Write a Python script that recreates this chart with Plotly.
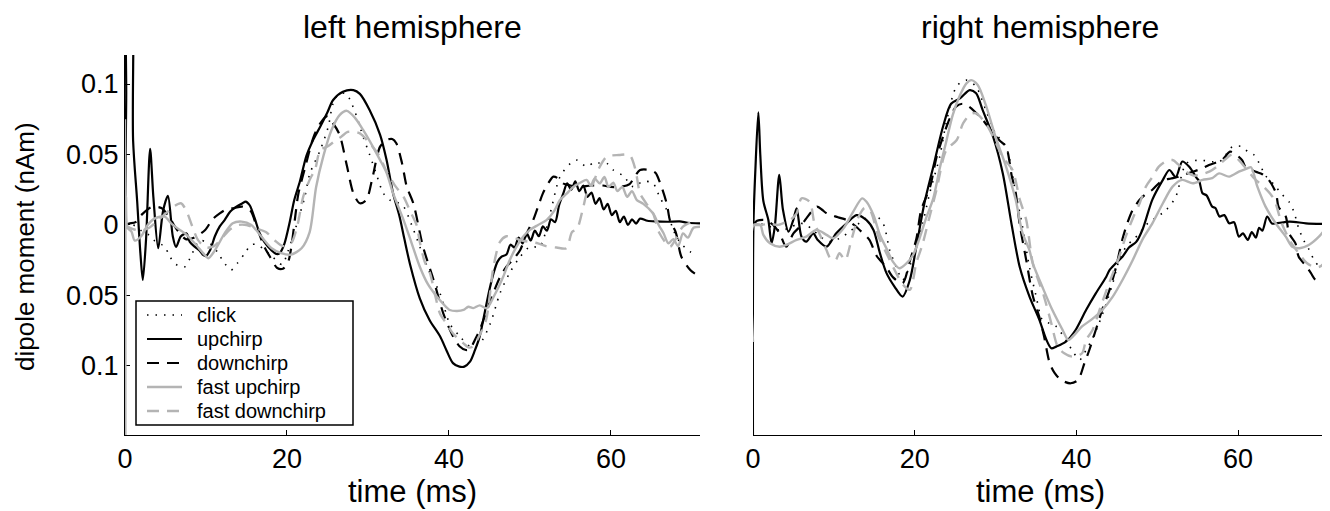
import plotly.graph_objects as go

# ---------------- data (time in ms, dipole moment in nAm) ----------------
# LEFT hemisphere
L_CLICK_T = [0.0, 1.0, 2.0, 2.9, 3.6, 4.9, 5.5, 6.3, 7.4, 8.0, 9.2, 10.0, 10.7, 11.5, 12.3, 13.1, 13.9, 14.8, 15.6, 16.4, 17.2, 18.1, 19.4, 20.1, 21.0, 21.6, 22.2, 22.8, 24.1, 25.1, 25.7, 26.5, 27.3, 27.8, 28.6, 29.4, 30.2, 31.1, 31.9, 32.7, 33.6, 34.4, 35.4, 36.4, 37.65, 38.9, 40.1, 41.35, 42.6, 43.8, 45.1, 46.3, 47.5, 48.8, 50.0, 51.2, 52.5, 53.7, 55.0, 55.8, 57.0, 57.8, 58.4, 59.5, 60.3, 61.5, 62.75, 64.0, 65.2, 66.0, 66.9, 67.7, 68.5, 69.8, 70.6]
L_CLICK_V = [0.0, 0.0, -0.004, -0.0069, -0.011, -0.0154, -0.022, -0.028, -0.0296, -0.024, -0.011, -0.012, -0.014, -0.02, -0.0272, -0.0319, -0.027, -0.02, -0.014, -0.014, -0.0177, -0.022, -0.028, -0.019, -0.0035, 0.008, 0.0198, 0.036, 0.053, 0.0697, 0.0863, 0.0934, 0.093, 0.0887, 0.077, 0.0627, 0.05, 0.035, 0.0225, 0.0177, 0.016, 0.013, 0.0, -0.0154, -0.034, -0.0485, -0.07, -0.079, -0.086, -0.084, -0.07, -0.0485, -0.034, -0.0225, -0.0154, -0.0154, 0.0083, 0.034, 0.0437, 0.046, 0.0413, 0.044, 0.044, 0.0437, 0.039, 0.035, 0.0272, 0.031, 0.0296, 0.02, 0.0106, -0.0035, -0.012, -0.019, -0.02]

L_UP_T = [0.0, 0.15, 0.35, 0.7, 1.0, 1.5, 1.9, 2.2, 2.6, 3.1, 3.5, 4.1, 4.7, 5.3, 5.9, 6.3, 6.9, 7.6, 8.0, 8.6, 9.2, 9.6, 10.0, 10.5, 11.1, 11.7, 12.3, 13.0, 13.5, 13.9, 14.5, 14.9, 15.4, 16.0, 16.6, 17.2, 18.1, 18.7, 19.1, 19.7, 20.3, 20.9, 21.6, 22.4, 23.2, 24.1, 25.0, 25.7, 26.9, 28.2, 29.0, 30.2, 31.5, 32.3, 33.1, 33.9, 34.5, 35.2, 36.4, 37.6, 38.9, 39.7, 40.5, 41.3, 41.9, 42.6, 43.2, 43.8, 44.4, 45.0, 45.5, 46.0, 46.5, 47.1, 47.6, 48.1, 48.6, 49.1, 49.6, 50.1, 50.6, 51.1, 51.6, 52.1, 52.6, 53.1, 53.6, 54.1, 54.6, 55.1, 55.6, 56.1, 56.6, 57.1, 57.6, 58.1, 58.6, 59.1, 59.6, 60.1, 60.6, 61.1, 61.6, 62.1, 62.6, 63.1, 63.6, 64.5, 65.5, 67.0, 68.5, 69.5, 71.0]
L_UP_V = [0.0, 0.09, 0.2, 0.2, 0.06, 0.017, -0.02, -0.039, -0.01, 0.054, 0.02, -0.0165, 0.01, 0.0206, -0.008, -0.0156, -0.008, -0.006, -0.012, -0.0154, -0.018, -0.021, -0.022, -0.018, -0.008, -0.001, 0.0035, 0.0095, 0.012, 0.0135, 0.0154, 0.0166, 0.014, 0.005, -0.0055, -0.012, -0.018, -0.0206, -0.02, -0.013, 0.001, 0.0177, 0.031, 0.049, 0.06, 0.0697, 0.08, 0.0887, 0.0945, 0.0957, 0.093, 0.0816, 0.064, 0.0461, 0.0225, 0.006, -0.01, -0.028, -0.052, -0.0674, -0.079, -0.089, -0.098, -0.1005, -0.1005, -0.097, -0.089, -0.079, -0.0626, -0.046, -0.0343, -0.026, -0.0225, -0.021, -0.014, -0.016, -0.009, -0.013, -0.006, -0.011, -0.004, -0.008, -0.001, -0.004, 0.004, 0.002, 0.014, 0.022, 0.0295, 0.025, 0.031, 0.024, 0.028, 0.02, 0.023, 0.015, 0.019, 0.011, 0.015, 0.007, 0.01, 0.002, 0.006, 0.0, 0.004, 0.001, 0.0045, 0.003, 0.0025, 0.0023, 0.0025, 0.0016, 0.0012]

L_DOWN_T = [0.0, 0.5, 1.3, 2.0, 3.25, 4.5, 5.5, 6.5, 7.5, 8.5, 9.9, 10.8, 11.7, 12.5, 13.5, 14.5, 15.5, 16.3, 17.2, 17.9, 18.8, 19.5, 20.1, 20.5, 21.0, 21.4, 22.2, 23.3, 24.1, 24.9, 25.7, 26.5, 27.4, 28.2, 29.0, 29.8, 30.5, 31.5, 32.3, 33.0, 33.5, 34.2, 34.8, 35.6, 36.8, 38.1, 39.3, 40.5, 41.3, 42.1, 42.6, 43.2, 43.8, 44.6, 45.5, 46.3, 47.1, 48.0, 48.8, 49.6, 50.4, 51.0, 51.6, 52.3, 52.9, 53.5, 54.1, 55.0, 56.2, 57.5, 59.0, 60.0, 61.1, 62.3, 63.0, 63.6, 64.8, 65.5, 66.0, 66.9, 67.3, 68.0, 68.7, 69.8, 70.5]
L_DOWN_V = [0.0, 0.001, 0.002, 0.007, 0.0127, 0.012, 0.005, -0.004, -0.01, -0.009, -0.0035, 0.004, 0.0083, 0.011, 0.012, 0.013, 0.01, -0.002, -0.0154, -0.0225, -0.0305, -0.031, -0.027, -0.017, 0.005, 0.022, 0.04, 0.0627, 0.072, 0.077, 0.072, 0.064, 0.042, 0.0225, 0.0154, 0.0177, 0.032, 0.0556, 0.0603, 0.061, 0.058, 0.044, 0.027, 0.0154, -0.0154, -0.039, -0.0627, -0.079, -0.086, -0.0887, -0.088, -0.0816, -0.0745, -0.062, -0.048, -0.037, -0.0296, -0.024, -0.0177, -0.006, 0.0035, 0.013, 0.0224, 0.03, 0.0343, 0.033, 0.0295, 0.028, 0.027, 0.028, 0.028, 0.027, 0.027, 0.029, 0.035, 0.039, 0.039, 0.037, 0.031, 0.015, 0.003, -0.005, -0.0225, -0.032, -0.035]

L_FUP_T = [0.0, 0.05, 0.12, 0.3, 0.8, 1.2, 2.0, 2.8, 3.7, 4.9, 5.7, 6.5, 7.4, 8.6, 9.8, 10.3, 11.1, 12.3, 13.3, 14.4, 15.6, 16.8, 18.1, 19.3, 20.5, 21.8, 22.8, 23.6, 24.5, 25.5, 26.5, 27.4, 28.4, 29.4, 30.6, 31.5, 32.3, 33.1, 34.4, 35.4, 36.4, 37.4, 38.5, 39.3, 40.1, 41.0, 41.8, 42.4, 43.0, 43.8, 44.65, 45.6, 46.7, 47.5, 48.35, 49.2, 50.0, 51.0, 52.05, 53.0, 53.7, 54.5, 55.35, 56.2, 57.0, 57.5, 58.0, 58.6, 59.2, 59.7, 60.3, 60.8, 61.4, 62.0, 62.6, 63.2, 64.0, 65.2, 65.9, 66.5, 67.1, 67.7, 68.3, 68.9, 69.5, 70.2, 71.0]
L_FUP_V = [0.075, -0.17, 0.02, -0.002, -0.0047, -0.011, -0.008, 0.0, 0.0047, 0.006, 0.0012, -0.0024, -0.006, -0.013, -0.021, -0.0236, -0.018, -0.006, 0.0012, 0.0024, 0.0, -0.008, -0.0165, -0.02, -0.021, -0.0165, -0.005, 0.027, 0.049, 0.0674, 0.078, 0.081, 0.076, 0.0674, 0.0556, 0.046, 0.037, 0.0225, 0.0035, -0.013, -0.0296, -0.042, -0.0508, -0.056, -0.0603, -0.061, -0.0603, -0.058, -0.059, -0.057, -0.0591, -0.05, -0.0367, -0.025, -0.0154, -0.008, -0.0035, 0.0, 0.0035, 0.01, 0.0177, 0.022, 0.027, 0.03, 0.032, 0.028, 0.033, 0.0295, 0.034, 0.027, 0.03, 0.024, 0.027, 0.02, 0.024, 0.0177, 0.015, 0.0083, 0.0, -0.0059, -0.013, -0.01, -0.015, -0.006, -0.009, -0.002, -0.0012]

L_FDOWN_T = [0.0, 1.0, 2.0, 3.0, 4.0, 5.0, 6.0, 6.9, 7.4, 7.8, 8.4, 9.0, 10.0, 11.0, 12.0, 13.0, 14.0, 15.0, 16.0, 17.4, 18.5, 19.5, 20.5, 21.3, 22.0, 22.8, 23.5, 24.1, 25.1, 26.0, 26.7, 27.5, 28.2, 29.0, 30.2, 31.3, 32.3, 33.3, 34.4, 35.2, 36.0, 36.4, 37.0, 37.65, 38.3, 38.9, 39.7, 40.5, 41.2, 41.8, 42.5, 43.0, 43.8, 44.6, 45.5, 46.3, 47.1, 48.0, 49.0, 50.0, 51.0, 52.0, 53.3, 54.5, 55.2, 55.8, 56.6, 57.0, 57.8, 58.5, 59.5, 61.0, 62.3, 63.0, 63.6, 64.4, 65.2, 66.0, 67.3, 68.0, 68.9, 70.6]
L_FDOWN_V = [0.0, -0.003, -0.004, -0.002, 0.003, 0.008, 0.013, 0.0154, 0.012, 0.007, -0.0024, -0.0106, -0.016, -0.015, -0.009, -0.003, 0.0, 0.0, -0.002, -0.005, -0.011, -0.015, -0.013, 0.0, 0.02, 0.032, 0.04, 0.053, 0.056, 0.06, 0.0626, 0.066, 0.066, 0.065, 0.058, 0.05, 0.038, 0.0283, 0.02, 0.01, 0.0, -0.012, -0.026, -0.034, -0.05, -0.063, -0.07, -0.077, -0.081, -0.084, -0.087, -0.086, -0.078, -0.067, -0.0296, -0.012, -0.008, -0.009, -0.011, -0.012, -0.013, -0.015, -0.016, -0.0165, -0.005, -0.003, 0.013, 0.022, 0.0295, 0.04, 0.0485, 0.0496, 0.0496, 0.04, 0.0224, 0.015, 0.0083, -0.0059, -0.0154, -0.01, -0.0012, 0.0035]

# RIGHT hemisphere
R_CLICK_T = [0.0, 0.5, 1.5, 2.5, 3.5, 4.5, 5.8, 6.6, 7.5, 8.5, 9.5, 10.7, 11.97, 13.6, 14.4, 14.9, 16.1, 16.9, 17.7, 18.5, 19.2, 20.2, 21.0, 21.85, 23.1, 23.9, 25.2, 26.4, 27.6, 28.8, 30.0, 31.3, 32.5, 33.3, 34.2, 35.0, 35.8, 36.7, 37.5, 38.7, 39.6, 40.4, 41.2, 41.9, 42.8, 43.7, 44.5, 45.3, 46.2, 47.0, 47.8, 48.6, 49.4, 51.1, 52.3, 53.6, 55.2, 56.8, 57.7, 58.5, 59.3, 60.5, 61.2, 62.0, 62.6, 63.4, 64.5, 65.3, 66.3, 66.9, 67.5, 68.1, 68.8, 69.4, 70.0, 70.8]
R_CLICK_V = [0.0, 0.001, 0.0, -0.002, -0.004, -0.002, 0.0012, 0.0, -0.004, -0.009, -0.0118, -0.0095, -0.0047, 0.0035, 0.006, 0.008, 0.001, -0.0177, -0.0295, -0.039, -0.032, -0.0154, 0.0012, 0.0225, 0.0485, 0.0725, 0.0985, 0.1028, 0.0981, 0.0816, 0.065, 0.0555, 0.0225, 0.0, -0.03, -0.05, -0.0674, -0.0698, -0.072, -0.0816, -0.09, -0.0957, -0.0887, -0.0816, -0.0698, -0.0556, -0.0414, -0.0248, -0.015, -0.0106, -0.006, 0.0, 0.0035, 0.0106, 0.0201, 0.0437, 0.046, 0.0449, 0.0449, 0.05, 0.0556, 0.0556, 0.052, 0.0496, 0.044, 0.035, 0.0284, 0.0225, 0.0165, 0.0095, -0.0024, -0.0106, -0.0177, -0.0248, -0.029, -0.031]

R_UP_T = [0.0, 0.05, 0.3, 0.66, 0.9, 1.28, 1.9, 2.3, 2.7, 3.25, 3.7, 4.4, 4.98, 5.4, 6.0, 6.6, 7.45, 8.0, 9.1, 10.3, 11.6, 12.8, 14.04, 14.9, 15.7, 16.5, 17.5, 18.5, 19.4, 20.2, 21.2, 22.3, 23.5, 24.5, 25.6, 26.8, 27.6, 28.4, 29.7, 30.9, 32.0, 33.0, 34.2, 35.4, 36.3, 36.9, 37.5, 38.7, 39.9, 41.2, 42.4, 43.7, 44.1, 44.9, 45.7, 46.5, 47.4, 48.2, 49.4, 50.7, 51.5, 52.3, 53.1, 53.96, 54.8, 55.2, 55.6, 56.1, 56.8, 57.2, 57.7, 58.3, 58.9, 59.5, 60.1, 60.6, 61.2, 61.7, 62.2, 62.6, 63.0, 63.6, 64.2, 64.7, 66.4, 68.4, 70.9]
R_UP_V = [-0.17, -0.0012, 0.04, 0.08, 0.05, 0.017, 0.0035, -0.013, -0.001, 0.0355, 0.011, -0.0047, 0.0035, 0.0118, -0.0083, -0.0118, -0.0059, -0.0106, -0.0154, -0.0059, 0.0012, 0.007, 0.0035, -0.0035, -0.02, -0.034, -0.0437, -0.0508, -0.039, -0.0154, 0.0154, 0.0413, 0.0697, 0.086, 0.0898, 0.0957, 0.0934, 0.0816, 0.0626, 0.0366, 0.0, -0.03, -0.0508, -0.067, -0.0816, -0.0875, -0.0863, -0.0828, -0.0745, -0.0603, -0.0485, -0.0367, -0.032, -0.027, -0.0225, -0.016, -0.012, -0.003, 0.018, 0.032, 0.039, 0.034, 0.045, 0.0413, 0.034, 0.031, 0.0225, 0.021, 0.013, 0.012, 0.006, 0.007, 0.0012, 0.002, -0.0083, -0.006, -0.0106, -0.005, -0.009, -0.002, -0.004, 0.006, 0.001, 0.0012, 0.0024, 0.0012, 0.0007]

R_DOWN_T = [0.0, 0.5, 1.5, 2.5, 3.3, 4.1, 5.0, 6.0, 6.6, 7.9, 8.5, 9.1, 10.5, 11.6, 12.5, 13.4, 14.4, 15.3, 16.5, 17.3, 18.5, 19.4, 20.2, 20.8, 21.9, 22.7, 23.5, 24.3, 25.1, 25.9, 26.7, 27.5, 28.5, 29.7, 30.5, 31.3, 32.0, 32.5, 33.0, 33.8, 34.6, 35.4, 36.0, 36.7, 37.3, 38.1, 39.3, 40.2, 41.0, 41.6, 42.4, 43.2, 44.1, 44.9, 45.7, 46.3, 46.96, 47.8, 48.6, 49.4, 50.2, 50.9, 51.7, 52.5, 53.5, 54.5, 55.5, 56.4, 58.0, 59.0, 59.5, 60.5, 60.9, 62.2, 63.0, 63.8, 64.7, 65.0, 65.9, 66.3, 67.1, 67.5, 68.4, 69.0, 69.6, 70.3, 70.9]
R_DOWN_V = [0.0, 0.003, 0.0035, 0.0, -0.006, -0.0154, -0.006, 0.0, 0.0047, 0.013, 0.011, 0.0083, 0.0055, 0.0035, 0.0, -0.0047, -0.0106, -0.022, -0.03, -0.037, -0.0413, -0.0255, -0.01, 0.0106, 0.027, 0.048, 0.0626, 0.075, 0.0839, 0.086, 0.084, 0.08, 0.074, 0.065, 0.06, 0.0555, 0.035, 0.0225, 0.0, -0.025, -0.05, -0.065, -0.079, -0.098, -0.105, -0.11, -0.1123, -0.11, -0.098, -0.0887, -0.0745, -0.06, -0.046, -0.03, -0.01, 0.0012, 0.0106, 0.0177, 0.022, 0.025, 0.0296, 0.032, 0.033, 0.034, 0.036, 0.038, 0.04, 0.0425, 0.0461, 0.052, 0.051, 0.046, 0.0413, 0.0377, 0.036, 0.032, 0.0225, 0.013, 0.006, -0.0059, -0.013, -0.0225, -0.029, -0.034, -0.039, -0.039, -0.0366]

R_FUP_T = [0.0, 0.1, 0.9, 1.28, 2.1, 3.3, 4.1, 5.4, 6.6, 7.86, 9.1, 9.9, 11.2, 12.4, 13.5, 14.04, 14.9, 15.7, 16.5, 17.3, 18.1, 18.98, 19.8, 20.6, 21.4, 22.3, 23.1, 23.9, 24.7, 25.6, 26.4, 27.0, 27.8, 28.8, 30.0, 31.3, 32.5, 33.3, 34.2, 34.6, 35.8, 37.0, 38.3, 39.0, 39.9, 40.7, 41.9, 43.2, 44.5, 45.7, 46.96, 48.2, 49.4, 50.7, 51.9, 53.1, 54.4, 55.6, 56.8, 57.65, 58.9, 60.1, 61.15, 61.6, 62.4, 63.4, 64.65, 65.9, 66.7, 67.6, 68.8, 70.0, 71.0]
R_FUP_V = [-0.083, 0.0, 0.0, -0.007, -0.013, -0.0154, -0.0142, -0.0106, -0.0083, -0.0035, -0.007, -0.0095, -0.0024, 0.0095, 0.0189, 0.0165, 0.0071, -0.0071, -0.0165, -0.026, -0.0307, -0.0272, -0.0213, -0.0095, 0.0047, 0.0189, 0.0402, 0.0591, 0.078, 0.092, 0.1005, 0.1028, 0.0993, 0.085, 0.0626, 0.0414, 0.0177, -0.005, -0.018, -0.027, -0.044, -0.06, -0.0745, -0.0816, -0.077, -0.072, -0.067, -0.0603, -0.0508, -0.039, -0.025, -0.01, 0.0012, 0.0154, 0.0272, 0.032, 0.0296, 0.032, 0.0332, 0.0366, 0.0343, 0.0378, 0.0402, 0.041, 0.027, 0.013, 0.0012, -0.0083, -0.0154, -0.0165, -0.014, -0.0083, -0.0012]

R_FDOWN_T = [0.0, 1.0, 2.0, 3.0, 4.0, 4.6, 5.4, 6.0, 7.0, 7.6, 8.2, 9.1, 9.5, 10.2, 10.7, 11.4, 12.2, 13.0, 13.8, 14.5, 15.5, 16.5, 17.7, 18.5, 19.4, 20.2, 21.0, 21.8, 22.7, 23.9, 25.2, 26.0, 27.0, 27.6, 28.8, 29.7, 30.9, 32.1, 33.0, 33.8, 34.6, 35.4, 36.0, 36.9, 37.7, 38.5, 39.5, 40.7, 41.2, 42.0, 43.0, 44.0, 45.3, 46.1, 47.0, 47.8, 48.6, 49.4, 50.2, 51.0, 51.9, 52.6, 53.5, 54.5, 55.5, 56.5, 57.5, 58.5, 59.3, 60.1, 61.0, 62.0, 63.0, 64.0, 64.5, 65.4, 66.5, 67.5, 68.5, 69.5, 70.1, 71.0]
R_FDOWN_V = [0.0, 0.0, 0.001, 0.0, 0.002, 0.0035, 0.0083, 0.0189, 0.0165, 0.0012, -0.0059, -0.018, -0.023, -0.025, -0.02, -0.025, -0.01, 0.005, 0.012, 0.01, -0.008, -0.02, -0.034, -0.042, -0.046, -0.027, -0.013, 0.005, 0.025, 0.053, 0.0603, 0.0722, 0.079, 0.0792, 0.072, 0.0626, 0.048, 0.039, 0.018, 0.0035, -0.027, -0.041, -0.0508, -0.0698, -0.0863, -0.091, -0.0934, -0.091, -0.0816, -0.0745, -0.058, -0.042, -0.0225, -0.0083, 0.005, 0.015, 0.0272, 0.034, 0.0414, 0.045, 0.0461, 0.043, 0.038, 0.035, 0.036, 0.038, 0.042, 0.047, 0.05, 0.046, 0.04, 0.033, 0.028, 0.022, 0.0177, 0.0012, -0.012, -0.02, -0.027, -0.03, -0.0296, -0.025]

SERIES_NAMES = ["click", "upchirp", "downchirp", "fast upchirp", "fast downchirp"]
LEFT = [(L_CLICK_T, L_CLICK_V), (L_UP_T, L_UP_V), (L_DOWN_T, L_DOWN_V), (L_FUP_T, L_FUP_V), (L_FDOWN_T, L_FDOWN_V)]
RIGHT = [(R_CLICK_T, R_CLICK_V), (R_UP_T, R_UP_V), (R_DOWN_T, R_DOWN_V), (R_FUP_T, R_FUP_V), (R_FDOWN_T, R_FDOWN_V)]

X_TICKS = [0, 20, 40, 60]
Y_TICKS = [0.1, 0.05, 0, -0.05, -0.1]
Y_TICK_TEXT = ["0.1", "0.05", "0", "0.05", "0.1"]
PANEL_TITLES = ["left hemisphere", "right hemisphere"]
X_TITLE = "time (ms)"
Y_TITLE = "dipole moment (nAm)"

# ---------------- style ----------------
BLACK = "#000000"
GRAY = "#b4b4b4"
STYLES = [
    dict(color=BLACK, dash="1.5px,7px", width=1.6),
    dict(color=BLACK, dash="solid", width=2.2),
    dict(color=BLACK, dash="12px,8px", width=2.2),
    dict(color=GRAY, dash="solid", width=2.4),
    dict(color=GRAY, dash="12px,8px", width=2.4),
]
FONT = "Liberation Sans, Arial, Helvetica, sans-serif"

# The page body adds an 8 px margin, so the figure is 8 px smaller and all
# screen positions below are converted with that offset.
OFF = 8
W, H = 1330 - OFF, 511 - OFF
ML = 125 - OFF
MR = 1330 - 1327
MT = 55 - OFF
MB = H - (435 - OFF)
PW = W - ML - MR
PH = H - MT - MB


def px_x(sx):
    return (sx - OFF - ML) / PW


def px_y(sy):
    return (H - MB - (sy - OFF)) / PH


fig = go.Figure()
for (t, v), name, st in zip(LEFT, SERIES_NAMES, STYLES):
    fig.add_trace(go.Scatter(x=t, y=v, mode="lines", name=name,
                             line=dict(shape="spline", smoothing=0.8, **st),
                             xaxis="x", yaxis="y", showlegend=False))
for (t, v), name, st in zip(RIGHT, SERIES_NAMES, STYLES):
    fig.add_trace(go.Scatter(x=t, y=v, mode="lines", name=name,
                             line=dict(shape="spline", smoothing=0.8, **st),
                             xaxis="x2", yaxis="y2", showlegend=False))

XR = [0, 71]
YR = [-0.149, 0.1206]

xcommon = dict(range=XR, tickvals=X_TICKS, ticks="inside", ticklen=5, tickcolor=BLACK,
               showline=True, linecolor=BLACK, linewidth=1, showgrid=False, zeroline=False,
               layer="below traces",
               tickfont=dict(family=FONT, size=27, color=BLACK))
fig.update_layout(
    width=W, height=H,
    margin=dict(l=ML, r=MR, t=MT, b=MB, autoexpand=False),
    paper_bgcolor="white", plot_bgcolor="white",
    font=dict(family=FONT, color=BLACK),
    xaxis=dict(domain=[0, px_x(700)], anchor="y", **xcommon),
    xaxis2=dict(domain=[px_x(753), 1], anchor="y2", **xcommon),
    yaxis=dict(domain=[0, 1], anchor="x", range=YR, tickvals=Y_TICKS, ticktext=Y_TICK_TEXT,
               ticks="inside", ticklen=5, tickcolor=BLACK, showline=True, linecolor=BLACK,
               linewidth=1, showgrid=False, zeroline=False, layer="below traces",
               tickfont=dict(family=FONT, size=27, color=BLACK)),
    yaxis2=dict(domain=[0, 1], anchor="x2", range=YR, visible=False),
    showlegend=False,
)

# ---- legend (frame, line samples, labels) ----
shapes = [dict(type="rect", xref="paper", yref="paper",
               x0=px_x(136), x1=px_x(353), y0=px_y(425), y1=px_y(301),
               line=dict(color=BLACK, width=1.5), fillcolor="white", layer="above")]
ann = []
LEG_ROWS = [315, 339, 363, 387, 411]
for name, st, ry in zip(SERIES_NAMES, STYLES, LEG_ROWS):
    shapes.append(dict(type="line", xref="paper", yref="paper",
                       x0=px_x(147), x1=px_x(182), y0=px_y(ry), y1=px_y(ry),
                       line=dict(color=st["color"], width=st["width"], dash=st["dash"]),
                       layer="above"))
    ann.append(dict(text=name, x=px_x(195), y=px_y(ry), xref="paper", yref="paper",
                    xanchor="left", yanchor="middle", showarrow=False,
                    font=dict(family=FONT, size=20, color=BLACK)))

for xc, txt in zip([(125 + 700) / 2, (753 + 1327) / 2], PANEL_TITLES):
    ann.append(dict(text=txt, x=px_x(xc), y=px_y(8), xref="paper", yref="paper",
                    xanchor="center", yanchor="top", showarrow=False, borderpad=0,
                    font=dict(family=FONT, size=32, color=BLACK)))
for xc in [(125 + 700) / 2, (753 + 1327) / 2]:
    ann.append(dict(text=X_TITLE, x=px_x(xc), y=px_y(492), xref="paper", yref="paper",
                    xanchor="center", yanchor="middle", showarrow=False,
                    font=dict(family=FONT, size=31, color=BLACK)))
ann.append(dict(text=Y_TITLE, x=px_x(25), y=px_y(247), xref="paper", yref="paper",
                xanchor="center", yanchor="middle", showarrow=False, textangle=-90,
                font=dict(family=FONT, size=26, color=BLACK)))
fig.update_layout(annotations=ann, shapes=shapes)

fig.write_html("out.html")
